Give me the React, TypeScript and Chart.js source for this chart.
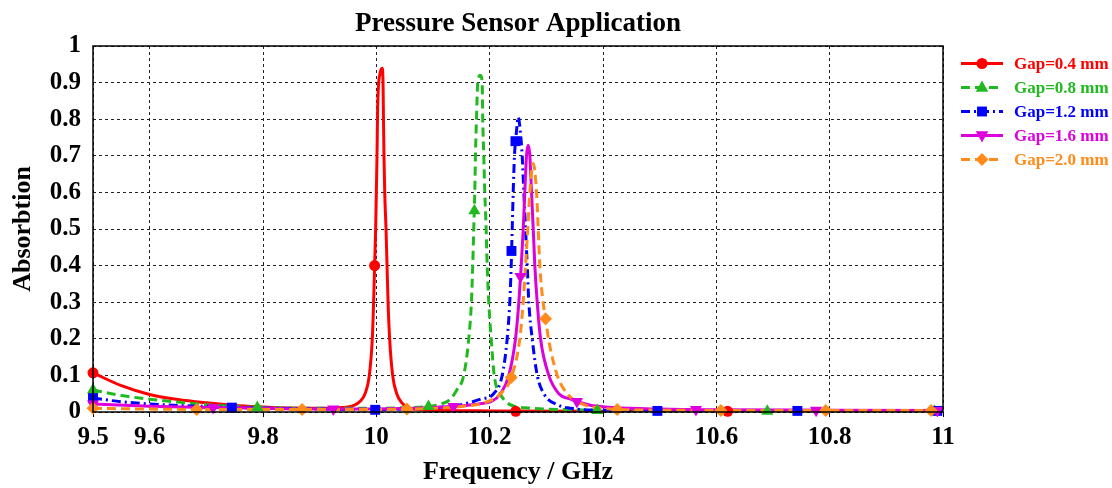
import React, { useEffect, useRef } from 'react';
import { Chart, registerables } from 'chart.js';

Chart.register(...registerables);

const FONT = '"Liberation Serif", "Times New Roman", serif';

// ---- data ----
const chartTitle = 'Pressure Sensor Application';
const xTitle = 'Frequency / GHz';
const yTitle = 'Absorbtion';
const xTickValues = [9.5, 9.6, 9.8, 10, 10.2, 10.4, 10.6, 10.8, 11];
const seriesNames = ['Gap=0.4 mm', 'Gap=0.8 mm', 'Gap=1.2 mm', 'Gap=1.6 mm', 'Gap=2.0 mm'];

const freq04 = [9.5, 9.55, 9.6, 9.65, 9.7, 9.75, 9.8, 9.85, 9.9, 9.94, 9.96, 9.972, 9.98, 9.9876, 9.9929, 9.9952, 9.997, 9.9988, 10.0, 10.0012, 10.0023, 10.0065, 10.0104, 10.0118, 10.0126, 10.0135, 10.0148, 10.0171, 10.0189, 10.0207, 10.0235, 10.0288, 10.036, 10.045, 10.056, 10.08, 10.12, 10.2, 10.4, 10.6, 10.8, 11];
const abs04 = [0.107, 0.072, 0.048, 0.034, 0.025, 0.018, 0.014, 0.011, 0.01, 0.012, 0.018, 0.03, 0.05, 0.1, 0.2, 0.3, 0.4, 0.5, 0.6, 0.7, 0.83, 0.925, 0.939, 0.9, 0.8, 0.7, 0.6, 0.5, 0.4, 0.3, 0.2, 0.1, 0.05, 0.025, 0.012, 0.006, 0.004, 0.003, 0.002, 0.002, 0.002, 0.002];

const freq08 = [9.5, 9.55, 9.6, 9.65, 9.7, 9.75, 9.8, 9.9, 10.0, 10.05, 10.092, 10.115, 10.1307, 10.142, 10.1542, 10.1631, 10.1678, 10.1701, 10.1719, 10.1737, 10.1749, 10.1767, 10.179, 10.1837, 10.1868, 10.1878, 10.1896, 10.1914, 10.1938, 10.1956, 10.1984, 10.2027, 10.208, 10.219, 10.231, 10.243, 10.27, 10.3, 10.35, 10.4, 10.5, 10.7, 11];
const abs08 = [0.06, 0.045, 0.035, 0.027, 0.02, 0.015, 0.012, 0.01, 0.01, 0.012, 0.015, 0.022, 0.035, 0.06, 0.1, 0.2, 0.3, 0.4, 0.5, 0.6, 0.7, 0.8, 0.9, 0.92, 0.9, 0.8, 0.7, 0.6, 0.5, 0.4, 0.3, 0.2, 0.1, 0.049, 0.025, 0.016, 0.011, 0.008, 0.006, 0.004, 0.003, 0.002, 0.002];

const freq12 = [9.5, 9.55, 9.6, 9.65, 9.7, 9.75, 9.8, 9.9, 10.0, 10.05, 10.1, 10.15, 10.184, 10.207, 10.2221, 10.2309, 10.2355, 10.238, 10.2398, 10.2415, 10.2438, 10.2475, 10.2504, 10.2532, 10.2574, 10.2603, 10.2633, 10.2663, 10.2691, 10.2751, 10.284, 10.2956, 10.3193, 10.3428, 10.4, 10.5, 10.75, 11];
const abs12 = [0.038, 0.028, 0.022, 0.018, 0.015, 0.012, 0.011, 0.008, 0.006, 0.008, 0.011, 0.02, 0.035, 0.05, 0.1, 0.2, 0.3, 0.4, 0.5, 0.6, 0.7, 0.77, 0.806, 0.78, 0.7, 0.6, 0.5, 0.4, 0.3, 0.2, 0.1, 0.05, 0.02, 0.01, 0.005, 0.003, 0.003, 0.003];

const freq16 = [9.5, 9.6, 9.7, 9.8, 9.9, 10.0, 10.1, 10.15, 10.18, 10.2044, 10.2191, 10.2338, 10.2456, 10.2515, 10.2557, 10.2592, 10.262, 10.265, 10.268, 10.2709, 10.2739, 10.2769, 10.2797, 10.2839, 10.2898, 10.3044, 10.3221, 10.3428, 10.355, 10.38, 10.42, 10.5, 10.6, 10.8, 11];
const abs16 = [0.022, 0.016, 0.012, 0.01, 0.008, 0.008, 0.012, 0.017, 0.022, 0.03, 0.05, 0.1, 0.2, 0.3, 0.4, 0.5, 0.6, 0.7, 0.729, 0.7, 0.6, 0.5, 0.4, 0.3, 0.2, 0.1, 0.05, 0.035, 0.028, 0.018, 0.012, 0.008, 0.006, 0.005, 0.004];

const freq20 = [9.5, 9.6, 9.7, 9.8, 9.9, 10.0, 10.054, 10.1, 10.15, 10.19, 10.2191, 10.238, 10.2532, 10.2592, 10.2633, 10.2673, 10.2709, 10.2769, 10.2827, 10.2857, 10.2885, 10.2935, 10.2986, 10.305, 10.3193, 10.3369, 10.3663, 10.4, 10.45, 10.5, 10.75, 11];
const abs20 = [0.01, 0.008, 0.007, 0.007, 0.007, 0.007, 0.008, 0.01, 0.015, 0.025, 0.05, 0.094, 0.2, 0.3, 0.4, 0.5, 0.6, 0.679, 0.6, 0.5, 0.4, 0.31, 0.255, 0.19, 0.1, 0.05, 0.02, 0.01, 0.006, 0.005, 0.004, 0.004];

// marker positions
const mkF04 = [9.5, 9.997, 10.246, 10.62];
const mkA04 = [0.107, 0.4, 0.002, 0.002];
const mkF08 = [9.5, 9.79, 10.092, 10.173, 10.39, 10.69, 10.985];
const mkA08 = [0.06, 0.012, 0.015, 0.55, 0.004, 0.002, 0.002];
const mkF12 = [9.5, 9.745, 9.998, 10.2385, 10.2455, 10.496, 10.743, 10.99];
const mkA12 = [0.038, 0.012, 0.006, 0.44, 0.74, 0.003, 0.003, 0.003];
const mkF16 = [9.5, 9.712, 9.924, 10.136, 10.2544, 10.354, 10.564, 10.776, 10.99];
const mkA16 = [0.022, 0.012, 0.008, 0.015, 0.37, 0.029, 0.007, 0.005, 0.004];
const mkF20 = [9.5, 9.683, 9.869, 10.054, 10.238, 10.2986, 10.425, 10.608, 10.793, 10.979];
const mkA20 = [0.01, 0.007, 0.007, 0.008, 0.094, 0.255, 0.007, 0.004, 0.004, 0.004];

const lineFreqs = [freq04, freq08, freq12, freq16, freq20];
const lineAbs = [abs04, abs08, abs12, abs16, abs20];
const markFreqs = [mkF04, mkF08, mkF12, mkF16, mkF20];
const markAbs = [mkA04, mkA08, mkA12, mkA16, mkA20];

// ---- styles ----
const styles = [
  { color: '#FF0000', dash: [] as number[], point: 'circle', rot: 0, r: 5.5 },
  { color: '#20BA20', dash: [9, 5], point: 'triangle', rot: 0, r: 7 },
  { color: '#0000FF', dash: [9, 4, 2, 4], point: 'rect', rot: 0, r: 7 },
  { color: '#DD00DD', dash: [] as number[], point: 'triangle', rot: 180, r: 7 },
  { color: '#FF8C1A', dash: [9, 5], point: 'rectRot', rot: 0, r: 6.5 },
];

function drawMarker(ctx: CanvasRenderingContext2D, kind: string, rot: number, x: number, y: number, r: number) {
  ctx.beginPath();
  if (kind === 'circle') {
    ctx.arc(x, y, r, 0, Math.PI * 2);
  } else if (kind === 'triangle') {
    const s = rot === 180 ? -1 : 1;
    ctx.moveTo(x, y - s * r);
    ctx.lineTo(x + r * 0.9, y + s * r * 0.6);
    ctx.lineTo(x - r * 0.9, y + s * r * 0.6);
    ctx.closePath();
  } else if (kind === 'rect') {
    const h = r * Math.SQRT1_2;
    ctx.rect(x - h, y - h, 2 * h, 2 * h);
  } else if (kind === 'rectRot') {
    ctx.moveTo(x, y - r);
    ctx.lineTo(x + r, y);
    ctx.lineTo(x, y + r);
    ctx.lineTo(x - r, y);
    ctx.closePath();
  }
  ctx.fill();
}

const decorPlugin = {
  id: 'decor',
  afterDatasetsDraw(chart: any) {
    const { ctx, chartArea } = chart;
    ctx.save();
    ctx.strokeStyle = '#000';
    ctx.lineWidth = 1.5;
    ctx.setLineDash([]);
    ctx.strokeRect(chartArea.left, chartArea.top, chartArea.right - chartArea.left, chartArea.bottom - chartArea.top);
    ctx.restore();
  },
  afterDraw(chart: any) {
    const { ctx, chartArea } = chart;
    ctx.save();
    // title
    ctx.fillStyle = '#000';
    ctx.font = `bold 27px ${FONT}`;
    ctx.textAlign = 'center';
    ctx.textBaseline = 'alphabetic';
    ctx.fillText(chartTitle, (chartArea.left + chartArea.right) / 2, 31);
    // legend
    const x0 = 961, x1 = 1003, xm = 982, xt = 1014;
    seriesNames.forEach((name, i) => {
      const st = styles[i];
      const y = 63.5 + i * 24;
      ctx.strokeStyle = st.color;
      ctx.fillStyle = st.color;
      ctx.lineWidth = 3;
      ctx.setLineDash(st.dash);
      ctx.beginPath();
      ctx.moveTo(x0, y);
      ctx.lineTo(x1, y);
      ctx.stroke();
      ctx.setLineDash([]);
      drawMarker(ctx, st.point, st.rot, xm, y, st.r);
      ctx.font = `bold 17px ${FONT}`;
      ctx.textAlign = 'left';
      ctx.textBaseline = 'middle';
      ctx.fillText(name, xt, y + 1);
    });
    ctx.restore();
  },
};

export default function App() {
  const ref = useRef<HTMLCanvasElement | null>(null);

  useEffect(() => {
    document.body.style.margin = '0';
    if (!ref.current) return;
    const lineSets = lineFreqs.map((fs, i) => ({
      label: seriesNames[i],
      data: fs.map((f, j) => ({ x: f, y: lineAbs[i][j] })),
      borderColor: styles[i].color,
      backgroundColor: styles[i].color,
      borderWidth: 3,
      borderDash: styles[i].dash,
      pointRadius: 0,
      pointHoverRadius: 0,
      fill: false,
      cubicInterpolationMode: 'monotone' as const,
      order: 10 - i,
    }));
    const markSets = markFreqs.map((fs, i) => ({
      label: seriesNames[i] + ' markers',
      data: fs.map((f, j) => ({ x: f, y: markAbs[i][j] })),
      showLine: false,
      borderColor: styles[i].color,
      backgroundColor: styles[i].color,
      borderWidth: 0,
      pointStyle: styles[i].point,
      pointRotation: styles[i].rot,
      pointRadius: styles[i].r,
      pointHoverRadius: styles[i].r,
      clip: false as any,
      order: 5 - i,
    }));

    const chart = new Chart(ref.current, {
      type: 'line',
      data: { datasets: [...lineSets, ...markSets] as any },
      options: {
        animation: false,
        responsive: false,
        devicePixelRatio: 1,
        events: [],
        layout: { padding: { left: 0, top: 46, right: 169, bottom: 0 } },
        plugins: {
          legend: { display: false },
          tooltip: { enabled: false },
          title: { display: false },
        },
        scales: {
          x: {
            type: 'linear',
            min: 9.5,
            max: 11,
            afterBuildTicks: (scale: any) => {
              scale.ticks = xTickValues.map((v) => ({ value: v }));
            },
            afterFit: (scale: any) => {
              scale.height = 76;
            },
            ticks: {
              color: '#000',
              padding: 6,
              maxRotation: 0,
              autoSkip: false,
              font: { family: FONT, size: 25, weight: 'bold' },
              callback: (v: any) => String(Number(Number(v).toFixed(1))),
            },
            grid: {
              color: '#222',
              lineWidth: 1,
              drawTicks: true,
              tickLength: 5,
              tickColor: '#000',
              tickBorderDash: [],
            } as any,
            border: { display: false, dash: [3, 3] } as any,
            title: {
              display: true,
              text: xTitle,
              color: '#000',
              font: { family: FONT, size: 26, weight: 'bold', lineHeight: 1.2 },
              padding: { top: 0, bottom: 0 },
            },
          },
          y: {
            type: 'linear',
            min: 0,
            max: 1,
            afterFit: (scale: any) => {
              scale.width = 93;
            },
            ticks: {
              stepSize: 0.1,
              color: '#000',
              padding: 12,
              font: { family: FONT, size: 25, weight: 'bold' },
              callback: (v: any) => String(Number(Number(v).toFixed(1))),
            },
            grid: {
              color: '#222',
              lineWidth: 1,
              drawTicks: false,
            },
            border: { display: false, dash: [3, 3] } as any,
            title: {
              display: true,
              text: yTitle,
              color: '#000',
              font: { family: FONT, size: 26, weight: 'bold', lineHeight: 1.2 },
              padding: { top: 7.5, bottom: 0 },
            },
          },
        },
      },
      plugins: [decorPlugin],
    });
    return () => chart.destroy();
  }, []);

  return (
    <div style={{ width: 1112, height: 488, background: '#fff' }}>
      <canvas ref={ref} width={1112} height={488} style={{ display: 'block' }} />
    </div>
  );
}
